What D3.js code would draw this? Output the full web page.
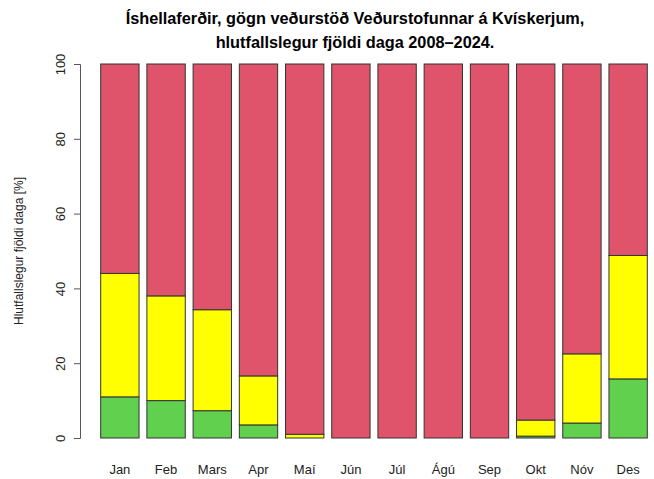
<!DOCTYPE html>
<html>
<head>
<meta charset="utf-8">
<script src="https://cdn.jsdelivr.net/npm/d3@7"></script>
<style>
  body { margin: 0; background: #fff; }
  text { font-family: "Liberation Sans", Arial, sans-serif; }
</style>
</head>
<body>
<div id="chart"></div>
<script>
var w = 654;
var h = 479;

// Months and stacked shares (% of days)
var months = ["Jan", "Feb", "Mars", "Apr", "Maí", "Jún", "Júl", "Ágú", "Sep", "Okt", "Nóv", "Des"];
var green  = [11, 10, 7.3, 3.5, 0, 0, 0, 0, 0, 0.5, 4, 15.8];
var yellow = [33, 28, 27, 13.1, 1, 0, 0, 0, 0, 4.3, 18.5, 33];
var yTicks = [0, 20, 40, 60, 80, 100];

var colors = { green: "#61D04F", yellow: "#FFFF00", red: "#DF536B" };

var title1 = "Íshellaferðir, gögn veðurstöð Veðurstofunnar á Kvískerjum,";
var title2 = "hlutfallslegur fjöldi daga 2008–2024.";

var svg = d3.select("#chart").append("svg")
  .attr("width", w)
  .attr("height", h);

var x = d3.scaleBand()
  .domain(months)
  .range([97, 651])
  .paddingInner(0.17)
  .paddingOuter(0.08);

var y = d3.scaleLinear()
  .domain([0, 100])
  .range([438, 64]);

// build stacked segments: green, yellow, rest is red
var segs = [];
months.forEach(function (m, i) {
  var g = green[i], yl = yellow[i];
  [
    { m: m, y0: 0, y1: g, c: colors.green },
    { m: m, y0: g, y1: g + yl, c: colors.yellow },
    { m: m, y0: g + yl, y1: 100, c: colors.red }
  ].forEach(function (s) { if (s.y1 > s.y0) segs.push(s); });
});

svg.selectAll("rect.seg")
  .data(segs)
  .enter()
  .append("rect")
  .attr("class", "seg")
  .attr("x", d => x(d.m))
  .attr("width", x.bandwidth())
  .attr("y", d => y(d.y1))
  .attr("height", d => y(d.y0) - y(d.y1))
  .attr("fill", d => d.c)
  .attr("stroke", "#333")
  .attr("stroke-width", 1);

// y axis
var yAxis = svg.append("g")
  .attr("transform", "translate(80,0)")
  .call(d3.axisLeft(y).tickValues(yTicks).tickSize(6));
yAxis.select(".domain").attr("stroke", "#555");
yAxis.selectAll(".tick line").attr("stroke", "#555");
yAxis.selectAll(".tick text")
  .attr("font-size", 13)
  .attr("fill", "#222")
  .attr("x", 0)
  .attr("y", 0)
  .attr("dy", "0")
  .attr("text-anchor", "middle")
  .attr("dominant-baseline", "central")
  .attr("transform", "translate(-20,0) rotate(-90)");

// month labels
svg.selectAll("text.month")
  .data(months)
  .enter()
  .append("text")
  .attr("class", "month")
  .attr("x", d => x(d) + x.bandwidth() / 2)
  .attr("y", 474)
  .attr("text-anchor", "middle")
  .attr("font-size", 13)
  .attr("fill", "#222")
  .text(d => d);

// y label
svg.append("text")
  .attr("transform", "translate(23,251) rotate(-90)")
  .attr("text-anchor", "middle")
  .attr("font-size", 12)
  .attr("fill", "#222")
  .text("Hlutfallslegur fjöldi daga [%]");

// title
svg.append("text")
  .attr("x", 355)
  .attr("y", 24)
  .attr("text-anchor", "middle")
  .attr("font-size", 16.3)
  .attr("font-weight", "bold")
  .text(title1);
svg.append("text")
  .attr("x", 355)
  .attr("y", 48)
  .attr("text-anchor", "middle")
  .attr("font-size", 16.3)
  .attr("font-weight", "bold")
  .text(title2);
</script>
</body>
</html>
